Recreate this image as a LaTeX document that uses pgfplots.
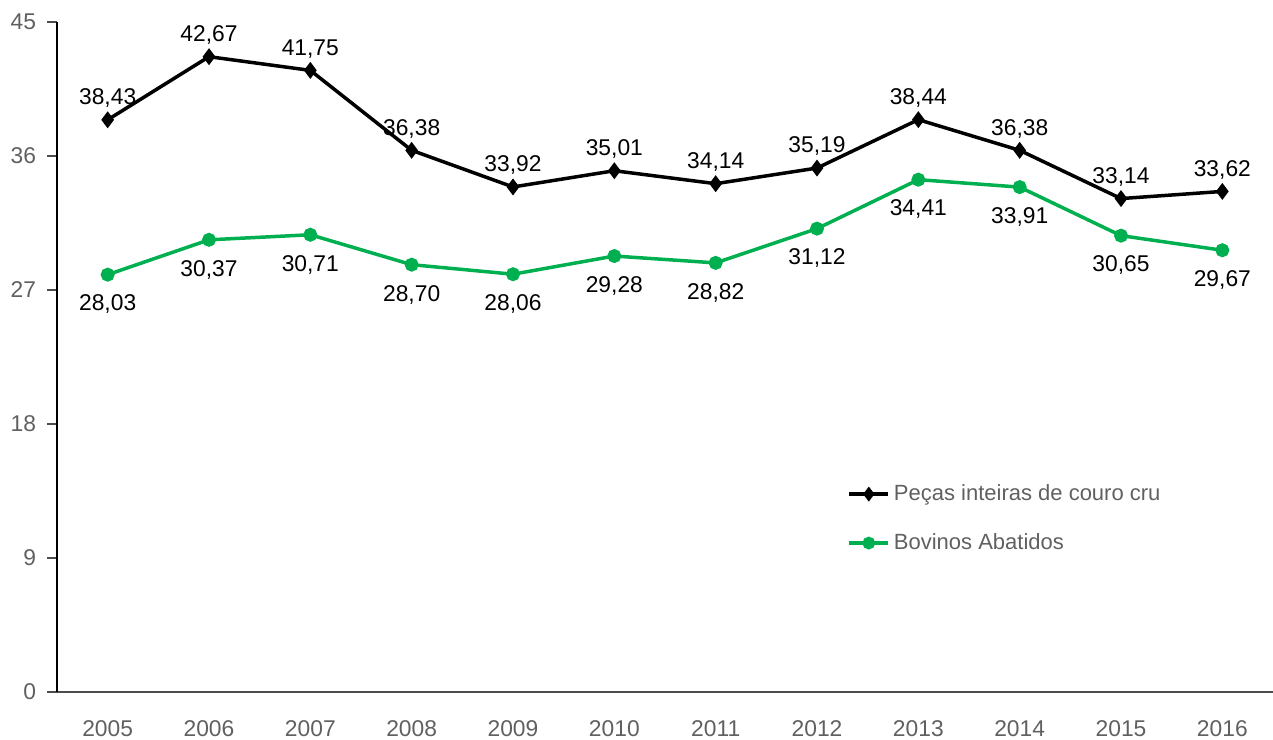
\documentclass[border=0pt]{standalone}
\usepackage{pgfplots}
\pgfplotsset{compat=1.18}
\usepackage{fontspec}
\setmainfont{Liberation Sans}
\usetikzlibrary{calc}
\definecolor{vd}{HTML}{00B050}
\definecolor{tk}{HTML}{606060}

\begin{document}
\begin{tikzpicture}
\begin{axis}[
    scale only axis,
    width=608pt, height=335pt,
    xmin=-0.5, xmax=11.5,
    ymin=0, ymax=45,
    axis x line*=bottom,
    axis y line*=left,
    x axis line style={draw=tk!80!black, line width=0.8pt, -},
    y axis line style={draw=black, line width=1pt, -},
    xtick={0,...,11},
    xticklabels={2005,2006,2007,2008,2009,2010,2011,2012,2013,2014,2015,2016},
    xtick style={draw=none},
    ytick={0,9,18,27,36,45},
    ytick style={draw=tk!80!black, line width=0.8pt},
    tick align=outside,
    major tick length=5pt,
    ticklabel style={font=\fontsize{11.4}{13}\selectfont, text=tk},
    xticklabel style={yshift=-6pt},
    yticklabel style={xshift=-2pt},
    /pgf/number format/assume math mode=true,
    nodes near coords,
    every node near coord/.append style={font=\fontsize{11.4}{13}\selectfont, text=black,
        /pgf/number format/use comma, /pgf/number format/fixed,
        /pgf/number format/fixed zerofill, /pgf/number format/precision=2,
        /pgf/number format/assume math mode=true},
    legend style={draw=none, fill=none, at={(0.645,0.322)}, anchor=north west,
        font=\fontsize{11}{13}\selectfont, text=tk, row sep=11pt,
        /tikz/every even column/.append style={column sep=0pt}},
    legend cell align=left,
    legend image code/.code={
        \draw[#1, mark=none] (0cm,0cm) -- (0.68cm,0cm);
        \path[#1, mark size=2.3pt] plot coordinates {(0.34cm,0cm)};
    },
]
\addplot[black, line width=1.75pt, mark=diamond*, mark size=2.8pt,
    every node near coord/.append style={anchor=south, yshift=2pt}]
coordinates {
    (0,38.43) (1,42.67) (2,41.75) (3,36.38) (4,33.92) (5,35.01)
    (6,34.14) (7,35.19) (8,38.44) (9,36.38) (10,33.14) (11,33.62)
};
\addlegendentry{Peças inteiras de couro cru}
\addplot[vd, line width=1.75pt, mark=*, mark size=2.6pt,
    every node near coord/.append style={anchor=north, yshift=-6pt}]
coordinates {
    (0,28.03) (1,30.37) (2,30.71) (3,28.70) (4,28.06) (5,29.28)
    (6,28.82) (7,31.12) (8,34.41) (9,33.91) (10,30.65) (11,29.67)
};
\addlegendentry{Bovinos Abatidos}
\end{axis}
\pgfresetboundingbox
\path[use as bounding box] ($(current axis.south west)+(-28.5pt,-24pt)$) rectangle ($(current axis.north east)+(0pt,11pt)$);
\end{tikzpicture}
\end{document}
